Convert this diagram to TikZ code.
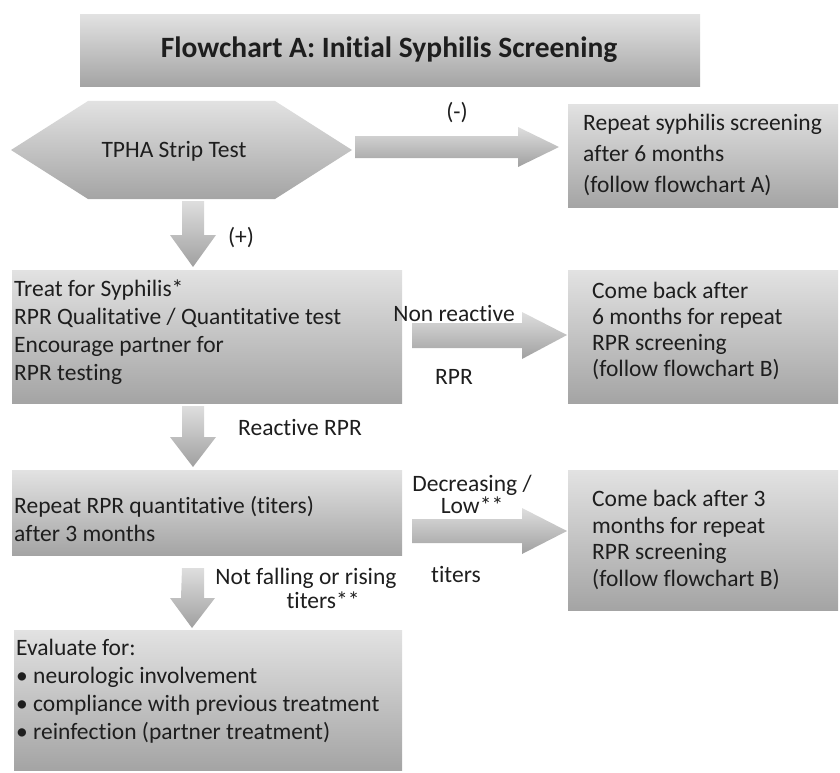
\documentclass[tikz,border=0pt]{standalone}
\usepackage{fontspec}
\setmainfont[Ligatures=NoCommon]{Carlito}
\definecolor{gtop}{RGB}{226,226,226}
\definecolor{gbot}{RGB}{164,164,164}
\definecolor{atop}{RGB}{222,222,222}
\definecolor{abot}{RGB}{160,160,160}
\definecolor{ink}{RGB}{30,30,30}
\tikzset{
  boxshape/.style={draw=none, top color=gtop, bottom color=gbot, inner sep=0, anchor=north west},
  arrowshape/.style={draw=none, top color=atop, bottom color=abot},
  bodytext/.style={inner sep=0, anchor=west, align=left, text=ink, font=\fontsize{23.5}{28}\selectfont},
  lbl/.style={inner sep=0, text=ink, align=center, font=\fontsize{23.5}{22}\selectfont},
}
\begin{document}
\begin{tikzpicture}[x=1pt,y=-1pt]
\useasboundingbox (0,0) rectangle (840,773);
% title
\node[boxshape, minimum width=620, minimum height=72] (titlebox) at (80,14) {};
\node[inner sep=0, text=ink, font=\fontsize{29.5}{32}\bfseries] (title) at (389,50) {Flowchart A: Initial Syphilis Screening};
% hexagon
\shade[arrowshape, top color=gtop, bottom color=gbot] (11,150) -- (88,101) -- (275,101) -- (352,150) -- (275,199) -- (88,199) -- cycle;
\node[lbl] (tpha) at (174,151) {TPHA Strip Test};
% boxes
\node[boxshape, minimum width=270, minimum height=103] (rep6) at (568,104) {};
\node[bodytext, font=\fontsize{23.5}{31}\selectfont] (rep6t) at (583,155) {Repeat syphilis screening\\after 6 months\\(follow flowchart A)};
\node[boxshape, minimum width=390, minimum height=133] (treat) at (12,270) {};
\node[bodytext] (treatt) at (14,332) {Treat for Syphilis*\\RPR Qualitative / Quantitative test\\Encourage partner for\\RPR testing};
\node[boxshape, minimum width=270, minimum height=133] (cb6) at (568,270) {};
\node[bodytext, font=\fontsize{23.5}{25.7}\selectfont] (cb6t) at (592,331) {Come back after\\6 months for repeat\\RPR screening\\(follow flowchart B)};
\node[boxshape, minimum width=390, minimum height=85] (rprq) at (12,470) {};
\node[bodytext] (rprqt) at (14,519) {Repeat RPR quantitative (titers)\\after 3 months};
\node[boxshape, minimum width=270, minimum height=140] (cb3) at (568,470) {};
\node[bodytext, font=\fontsize{23.5}{26.5}\selectfont] (cb3t) at (592,540) {Come back after 3\\months for repeat\\RPR screening\\(follow flowchart B)};
\node[boxshape, minimum width=388, minimum height=140] (eval) at (14,630) {};
\node[bodytext] (evalt) at (16,691) {Evaluate for:\\\textbullet\ neurologic involvement\\\textbullet\ compliance with previous treatment\\\textbullet\ reinfection (partner treatment)};
% right arrows
\shade[arrowshape] (355,136) -- (518,136) -- (518,127) -- (559,147) -- (518,167) -- (518,158) -- (355,158) -- cycle;
\node[lbl] (neg) at (457,113) {(-)};
\shade[arrowshape] (412,323) -- (522,323) -- (522,312) -- (567,335) -- (522,359) -- (522,348) -- (412,348) -- cycle;
\node[lbl] (nonr) at (454,313) {Non reactive};
\node[lbl] (nonr2) at (454,377) {RPR};
\shade[arrowshape] (412,519) -- (522,519) -- (522,508) -- (567,531) -- (522,554) -- (522,543) -- (412,543) -- cycle;
\node[lbl] (dec) at (472,494) {Decreasing /\\Low**};
\node[lbl] (dec3) at (456,574) {titers};
% down arrows
\shade[arrowshape] (182,201) -- (204,201) -- (204,235) -- (216,235) -- (193,267) -- (170,235) -- (182,235) -- cycle;
\node[lbl] (pos) at (241,238) {(+)};
\shade[arrowshape] (182,406) -- (204,406) -- (204,437) -- (216,437) -- (193,467) -- (170,437) -- (182,437) -- cycle;
\node[lbl] (react) at (300,427) {Reactive RPR};
\shade[arrowshape] (182,568) -- (204,568) -- (204,598) -- (215,598) -- (192,628) -- (170,598) -- (181,598) -- cycle;
\node[lbl] (nf1) at (306,578) {Not falling or rising};
\node[lbl] (nf2) at (323,600) {titers**};
\end{tikzpicture}
\end{document}
